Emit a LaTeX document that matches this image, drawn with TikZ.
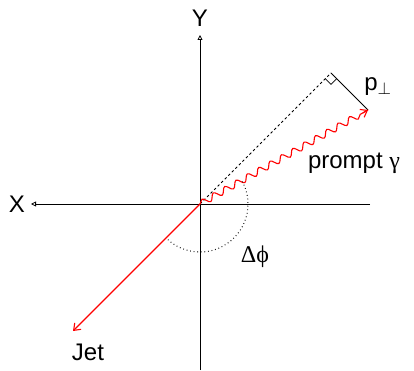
\documentclass[tikz,border=0pt]{standalone}
\usepackage{fontspec}
\setmainfont{Liberation Sans}
\newfontfamily\grk{Liberation Serif}
\usetikzlibrary{arrows.meta,decorations.pathmorphing,calc}
\begin{document}
\begin{tikzpicture}[x=1pt,y=1pt,
  axis/.style={black,line width=0.8pt},
  lbl/.style={font=\fontsize{24}{26}\selectfont,inner sep=0pt},
  redline/.style={red,line width=1.1pt}]
\useasboundingbox (0,0) rectangle (414,370);
\coordinate (O) at (200,166);
\coordinate (Xe) at (31,166);
\coordinate (Xs) at (370,166);
\coordinate (Ye) at (200,335);
\coordinate (Ys) at (200,0);
\coordinate (G) at (368,260);
\coordinate (F) at (331,297);
\coordinate (J) at (73,39);
\draw[axis,-{Triangle[open,length=5pt,width=5pt]}] (Xs) -- (Xe);
\draw[axis,-{Triangle[open,length=5pt,width=5pt]}] (Ys) -- (Ye);
\node[lbl] (Xl) at (17,166) {X};
\node[lbl] (Yl) at (200,352) {Y};
% jet
\draw[redline,-{Straight Barb[length=6pt,width=9pt]}] (O) -- (J);
\node[lbl] (Jl) at (88,18) {Jet};
% dotted line to foot
\draw[black,line width=0.8pt,dash pattern=on 2.5pt off 2.5pt] (O) -- (F);
% p perp
\draw[black,line width=0.8pt] (F) -- (G);
\draw[black,line width=0.6pt] ($(F)+(-5.7,-5.7)$) -- ++(5.7,-5.7) -- ++(5.7,5.7);
\node[lbl] (pl) at (378,283) {p$_\perp$};
% photon
\draw[redline,decorate,decoration={snake,amplitude=3.2pt,segment length=13pt,post length=5pt}] (O) -- (G);
\draw[redline,-{Straight Barb[length=6pt,width=9pt]}] ($(O)!0.97!(G)$) -- (G);
\node[lbl] (gl) at (354,207) {prompt {\grk γ}};
% delta phi arc
\draw[black,line width=1pt,dash pattern=on 0.8pt off 2.8pt] ($(O)+(28:48)$) arc[start angle=28,end angle=-135,radius=48];
\node[lbl] (dl) at (255,113) {\grk Δϕ};
\end{tikzpicture}
\end{document}
